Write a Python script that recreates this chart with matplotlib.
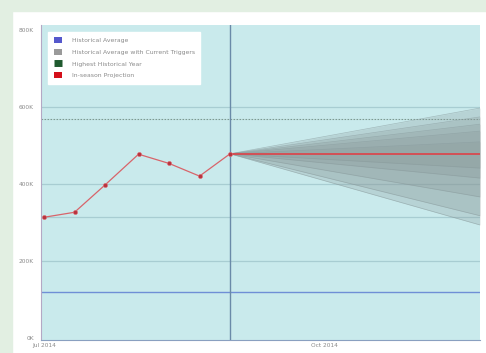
import matplotlib
matplotlib.use("Agg")
import matplotlib.pyplot as plt
import matplotlib.dates as mdates
from matplotlib.patches import Patch
from matplotlib.lines import Line2D
import pandas as pd
import numpy as np

# ---------------- data ----------------
obs_dates = ["2014-07-01", "2014-07-11", "2014-07-21", "2014-08-01",
             "2014-08-11", "2014-08-21", "2014-08-31"]
obs_values = [314000, 327000, 398000, 478000, 454000, 421000, 479000]

projection_end_date = "2014-11-21"
projection_value = 479000

# fan of "historical average with current triggers" bands: (upper, lower) end values
fan_upper = [598000, 575000, 556000, 538000, 510000]
fan_lower = [294000, 318000, 367000, 416000, 442000]

historical_average = 120000
highest_historical_year = 570000
reference_levels = [315000]

x_tick_dates = ["2014-07-01", "2014-10-01"]
x_tick_labels = ["Jul 2014", "Oct 2014"]
y_ticks = [0, 200000, 400000, 600000, 800000]
y_tick_labels = ["0K", "200K", "400K", "600K", "800K"]

legend_labels = ["Historical Average", "Historical Average with Current Triggers",
                 "Highest Historical Year", "In-season Projection"]

# ---------------- figure ----------------
W, H = 486, 353
fig = plt.figure(figsize=(W / 100, H / 100), dpi=100)
fig.patch.set_facecolor("white")
# outer green frame strips
fig.add_artist(plt.Rectangle((0, 1 - 11 / H), 1, 11 / H, transform=fig.transFigure,
                             color="#e2efe2", zorder=-10))
fig.add_artist(plt.Rectangle((0, 0), 12 / W, 1, transform=fig.transFigure,
                             color="#e2efe2", zorder=-10))

ax_l, ax_r, ax_t, ax_b = 41, 480, 25, 340
ax = fig.add_axes([ax_l / W, 1 - ax_b / H, (ax_r - ax_l) / W, (ax_b - ax_t) / H])
ax.set_facecolor("#c9eaec")

obs_dt = pd.to_datetime(obs_dates)
end_dt = pd.to_datetime(projection_end_date)
x0 = mdates.date2num(pd.Timestamp("2014-06-30"))
x1 = mdates.date2num(end_dt)

ax.set_xlim(x0, x1)
ax.set_ylim(-5200, 814000)

grid_c = "#a8cdd2"
for yv in [200000, 400000, 600000] + reference_levels:
    ax.axhline(yv, color=grid_c, lw=0.9, zorder=1)

ax.axhline(historical_average, color="#6f8fd6", lw=1.0, zorder=2)
ax.axhline(highest_historical_year, color="#7d9a92", lw=0.8,
           dashes=(1.5, 1.2), zorder=2)

# fan
xs = [mdates.date2num(obs_dt[-1]), x1]
start = obs_values[-1]
for up, lo in zip(fan_upper, fan_lower):
    ax.fill_between(xs, [start, up], [start, lo], color="#8a9898", alpha=0.27,
                    lw=0, zorder=3)
    ax.plot(xs, [start, up], color="#889a9c", lw=0.5, alpha=0.6, zorder=3)
    ax.plot(xs, [start, lo], color="#889a9c", lw=0.5, alpha=0.6, zorder=3)

# vertical "current date" line
ax.axvline(mdates.date2num(obs_dt[-1]), color="#6a8aa8", lw=1.0, zorder=4)

# projection line
ax.plot(xs, [projection_value, projection_value], color="#d8494f", lw=1.3, zorder=5)
ax.plot(obs_dt, obs_values, color="#d8646a", lw=0.9, zorder=5)
ax.scatter(obs_dt, obs_values, s=9, color="#b8333d", edgecolor="#e07078",
           linewidth=0.4, zorder=6)

# axes styling
for s in ["top", "right"]:
    ax.spines[s].set_visible(False)
ax.spines["left"].set_color("#b4a8c4")
ax.spines["left"].set_linewidth(0.8)
ax.spines["bottom"].set_color("#8aa0c0")
ax.spines["bottom"].set_linewidth(0.8)

ax.set_yticks(y_ticks)
ax.set_yticklabels(y_tick_labels)
ax.set_xticks(mdates.date2num(pd.to_datetime(x_tick_dates)))
ax.set_xticklabels(x_tick_labels)
ax.tick_params(axis="both", length=0, labelsize=4.2, labelcolor="#8a8a8a")
ax.tick_params(axis="y", pad=5)
ax.tick_params(axis="x", pad=2)

# legend
handles = [
    Patch(facecolor="#5558cc", edgecolor="none"),
    Patch(facecolor="#9a9a9a", edgecolor="none"),
    Line2D([0], [0], color="#1f5a2f", lw=5, dashes=(1.2, 0.8)),
    Patch(facecolor="#d40f1a", edgecolor="none"),
]
leg = ax.legend(handles, legend_labels, loc="upper left",
                bbox_to_anchor=((48 - ax_l) / (ax_r - ax_l), (ax_b - 32) / (ax_b - ax_t)),
                borderaxespad=0, frameon=True, fancybox=False, fontsize=4.4,
                handlelength=1.4, handleheight=1.0, labelspacing=0.95,
                borderpad=0.9, handletextpad=1.6)
leg.get_frame().set_facecolor("white")
leg.get_frame().set_edgecolor("white")
leg.get_frame().set_alpha(1)
for t in leg.get_texts():
    t.set_color("#8a8a8a")

fig.savefig("out.png", dpi=100, facecolor=fig.get_facecolor())
